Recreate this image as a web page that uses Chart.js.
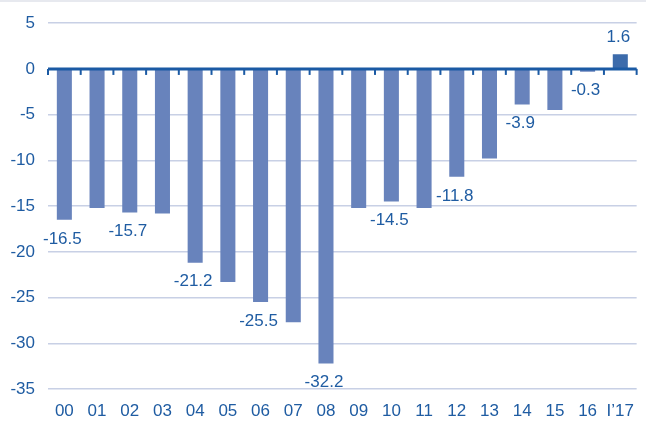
<!DOCTYPE html>
<html>
<head>
<meta charset="utf-8">
<script src="https://cdn.jsdelivr.net/npm/chart.js@4"></script>
<style>
  html, body { margin: 0; padding: 0; background: #fff; }
  #wrap { width: 646px; height: 424px; position: relative; }
</style>
</head>
<body>
<div id="wrap"><canvas id="balanceChart"></canvas></div>
<script>
// ----------- data -------
const categories = ["00","01","02","03","04","05","06","07","08","09","10","11","12","13","14","15","16","I\u201917"];
const balance = [-16.5, -15.2, -15.7, -15.8, -21.2, -23.3, -25.5, -27.7, -32.2, -15.2, -14.5, -15.2, -11.8, -9.8, -3.9, -4.5, -0.3, 1.6];
const labelled = [0, 2, 4, 6, 8, 10, 12, 14, 16, 17];
const yTicks = [5, 0, -5, -10, -15, -20, -25, -30, -35];

const textBlue = "#1f5ca2";
const barBlue = "#6883bc";
const lastBlue = "#3c6bab";

// zero line with tick marks, top border line, value labels
const extras = {
  id: "extras",
  afterDatasetsDraw(chart) {
    const { ctx, chartArea, scales } = chart;
    const y0 = scales.y.getPixelForValue(0);
    ctx.save();
    // top border
    ctx.strokeStyle = "#dfe2ea";
    ctx.lineWidth = 1.5;
    ctx.beginPath();
    ctx.moveTo(0, 1);
    ctx.lineTo(chart.width, 1);
    ctx.stroke();
    // zero axis
    ctx.strokeStyle = "#1b5aa4";
    ctx.lineWidth = 3;
    ctx.beginPath();
    ctx.moveTo(chartArea.left, y0);
    ctx.lineTo(chartArea.right, y0);
    ctx.stroke();
    ctx.lineWidth = 2;
    const step = (chartArea.right - chartArea.left) / categories.length;
    for (let i = 0; i <= categories.length; i++) {
      const x = chartArea.left + i * step;
      ctx.beginPath();
      ctx.moveTo(x, y0);
      ctx.lineTo(x, y0 + 6);
      ctx.stroke();
    }
    // value labels
    const meta = chart.getDatasetMeta(0);
    ctx.fillStyle = textBlue;
    ctx.font = "17px 'Liberation Sans', Arial, sans-serif";
    ctx.textAlign = "center";
    ctx.textBaseline = "middle";
    labelled.forEach(i => {
      const bar = meta.data[i];
      const v = balance[i];
      const y = v < 0 ? bar.y + 19 : bar.y - 17;
      ctx.fillText(v.toFixed(1), bar.x - 2, y);
    });
    ctx.restore();
  }
};

const ctx = document.getElementById("balanceChart").getContext("2d");
new Chart(ctx, {
  type: "bar",
  data: {
    labels: categories,
    datasets: [{
      data: balance,
      backgroundColor: balance.map((v, i) => i === balance.length - 1 ? lastBlue : barBlue),
      barPercentage: 0.46,
      categoryPercentage: 1
    }]
  },
  options: {
    responsive: true,
    maintainAspectRatio: false,
    animation: false,
    layout: { padding: { top: 20, right: 0, left: 0, bottom: 0 } },
    plugins: { legend: { display: false }, tooltip: { enabled: false } },
    scales: {
      x: {
        grid: { display: false, drawTicks: false },
        border: { display: false },
        ticks: {
          color: textBlue,
          font: { size: 17, family: "'Liberation Sans', Arial, sans-serif" },
          padding: 12,
          maxRotation: 0,
          autoSkip: false
        },
        afterFit(scale) { scale.height = 35; }
      },
      y: {
        min: -35,
        max: 5,
        afterBuildTicks(scale) { scale.ticks = yTicks.map(v => ({ value: v })); },
        grid: { color: "#c8d0e5", lineWidth: 1.5, drawTicks: false },
        border: { display: false },
        ticks: {
          color: textBlue,
          font: { size: 17, family: "'Liberation Sans', Arial, sans-serif" },
          padding: 13
        },
        afterFit(scale) { scale.width = 48; }
      }
    }
  },
  plugins: [extras]
});
</script>
</body>
</html>
